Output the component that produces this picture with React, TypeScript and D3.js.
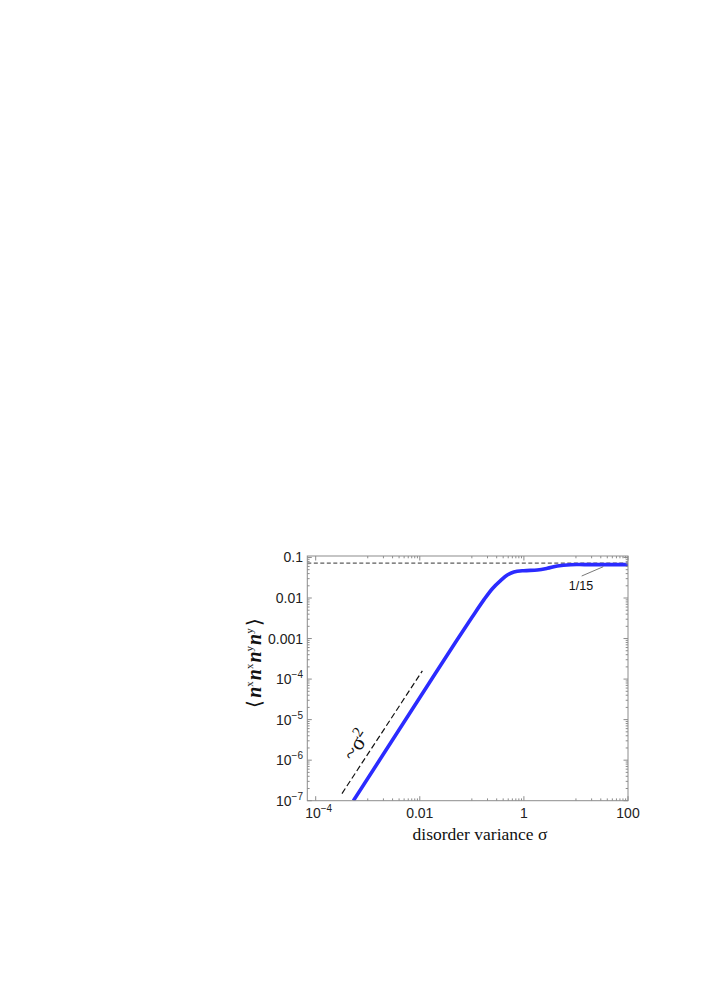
import React from "react";
import * as d3 from "d3";

const sigmaValues = [5.3e-4, 0.004, 0.02, 0.05, 0.1, 0.17, 0.25, 0.356, 0.48, 0.642, 1, 1.81, 2.82, 4.39, 7.9, 15, 100];
const momentValues = [1e-7, 5.6e-6, 1.39e-4, 8.6e-4, 3.3e-3, 9.0e-3, 0.0172, 0.0268, 0.0368, 0.0436, 0.0472, 0.049, 0.054, 0.0616, 0.0664, 0.0667, 0.0667];

const guideSigma = [3.2e-4, 0.0112];
const guideMoment = [1.5e-7, 1.6e-4];

const plateau = 1 / 15;

const xMajorTicks = [1e-4, 0.01, 1, 100];
const xMajorLabels = [["10", "−4"], ["0.01", ""], ["1", ""], ["100", ""]];
const yMajorTicks = [1e-7, 1e-6, 1e-5, 1e-4, 1e-3, 0.01, 0.1];
const yMajorLabels = [["10", "−7"], ["10", "−6"], ["10", "−5"], ["10", "−4"], ["0.001", ""], ["0.01", ""], ["0.1", ""]];

const L = 307.3, R = 628, T = 556, B = 800.7;

export default function App() {
  const x = d3.scaleLog().domain([6.9e-5, 100]).range([L, R]);
  const y = d3.scaleLog().domain([1e-7, 0.1087]).range([B, T]);

  const xMinor: number[] = [];
  [1e-3, 0.1, 10].forEach((b) => {
    for (let k = 1; k <= 9; k++) xMinor.push(b * k);
  });
  const yMinor: number[] = [];
  for (let e = -7; e <= -2; e++) {
    for (let k = 2; k <= 9; k++) yMinor.push(k * Math.pow(10, e));
  }

  const line = d3
    .line<number>()
    .x((_, i) => x(sigmaValues[i]))
    .y((d) => y(d))
    .curve(d3.curveCatmullRom.alpha(0.5));

  const frame = "#8c8c8c";
  const majLen = 4.5, minLen = 2.3;

  return (
    <svg width={706} height={998} style={{ position: "absolute", left: 0, top: 0 }}>
      <defs>
        <clipPath id="plotclip">
          <rect x={L} y={T} width={R - L} height={B - T} />
        </clipPath>
      </defs>
      <line x1={L} x2={R} y1={y(plateau) - 1.5} y2={y(plateau) - 1.5} stroke="#333" strokeWidth={1} strokeDasharray="4,2.5" />
      <line
        x1={x(guideSigma[0])}
        y1={y(guideMoment[0])}
        x2={x(guideSigma[1])}
        y2={y(guideMoment[1])}
        stroke="#111"
        strokeWidth={1.2}
        strokeDasharray="6,3"
      />
      <g clipPath="url(#plotclip)">
        <path d={line(momentValues) || ""} fill="none" stroke="#2b2bff" strokeWidth={3.6} />
      </g>
      <rect x={L} y={T} width={R - L} height={B - T} fill="none" stroke={frame} strokeWidth={1} />
      {xMajorTicks.map((t, i) => (
        <g key={"xm" + i}>
          <line x1={x(t)} x2={x(t)} y1={B} y2={B - majLen} stroke={frame} />
          <line x1={x(t)} x2={x(t)} y1={T} y2={T + majLen} stroke={frame} />
        </g>
      ))}
      {xMinor.map((t, i) => (
        <g key={"xn" + i}>
          <line x1={x(t)} x2={x(t)} y1={B} y2={B - minLen} stroke={frame} />
          <line x1={x(t)} x2={x(t)} y1={T} y2={T + minLen} stroke={frame} />
        </g>
      ))}
      {yMajorTicks.map((t, i) => (
        <g key={"ym" + i}>
          <line x1={L} x2={L + majLen} y1={y(t)} y2={y(t)} stroke={frame} />
          <line x1={R} x2={R - majLen} y1={y(t)} y2={y(t)} stroke={frame} />
        </g>
      ))}
      {yMinor.map((t, i) => (
        <g key={"yn" + i}>
          <line x1={L} x2={L + minLen} y1={y(t)} y2={y(t)} stroke={frame} />
          <line x1={R} x2={R - minLen} y1={y(t)} y2={y(t)} stroke={frame} />
        </g>
      ))}
      {xMajorTicks.map((t, i) => (
        <text key={"xl" + i} x={x(t) + (xMajorLabels[i][1] ? 3 : 0)} y={818} textAnchor="middle" fontFamily="Liberation Sans, Arial, sans-serif" fontSize={14} fill="#222">
          {xMajorLabels[i][0]}
          {xMajorLabels[i][1] && (
            <tspan fontSize={10} dy={-6}>{xMajorLabels[i][1]}</tspan>
          )}
        </text>
      ))}
      {yMajorTicks.map((t, i) => (
        <text key={"yl" + i} x={303} y={y(t) + 5} textAnchor="end" fontFamily="Liberation Sans, Arial, sans-serif" fontSize={14} fill="#222">
          {yMajorLabels[i][0]}
          {yMajorLabels[i][1] && (
            <tspan fontSize={10} dy={-6}>{yMajorLabels[i][1]}</tspan>
          )}
        </text>
      ))}
      <line x1={581.7} y1={576} x2={603.3} y2={566.7} stroke="#555" strokeWidth={0.8} />
      <text x={581} y={590} textAnchor="middle" fontFamily="Liberation Sans, Arial, sans-serif" fontSize={12.5} fill="#111">
        1/15
      </text>
      <text transform="translate(362,749) rotate(-57)" textAnchor="middle" fontFamily="Liberation Serif, Times New Roman, serif" fontSize={22} fill="#111">
        ~σ<tspan fontSize={15} dy={-8}>2</tspan>
      </text>
      <text x={480} y={840} textAnchor="middle" fontFamily="Liberation Serif, Times New Roman, serif" fontSize={17.5} fill="#111">
        disorder variance σ
      </text>
      <text transform="translate(261,663) rotate(-90)" textAnchor="middle" fontFamily="Liberation Serif, Times New Roman, serif" fontSize={20} fill="#111">
        <tspan>⟨</tspan>
        <tspan fontStyle="italic" fontWeight="bold" dx={2}>n</tspan>
        <tspan fontSize={11} dy={-8}>x</tspan>
        <tspan fontStyle="italic" fontWeight="bold" dy={8} dx={1}>n</tspan>
        <tspan fontSize={11} dy={-8}>x</tspan>
        <tspan fontStyle="italic" fontWeight="bold" dy={8} dx={1}>n</tspan>
        <tspan fontSize={11} dy={-8}>y</tspan>
        <tspan fontStyle="italic" fontWeight="bold" dy={8} dx={1}>n</tspan>
        <tspan fontSize={11} dy={-8}>y</tspan>
        <tspan dy={8} dx={2}>⟩</tspan>
      </text>
    </svg>
  );
}
